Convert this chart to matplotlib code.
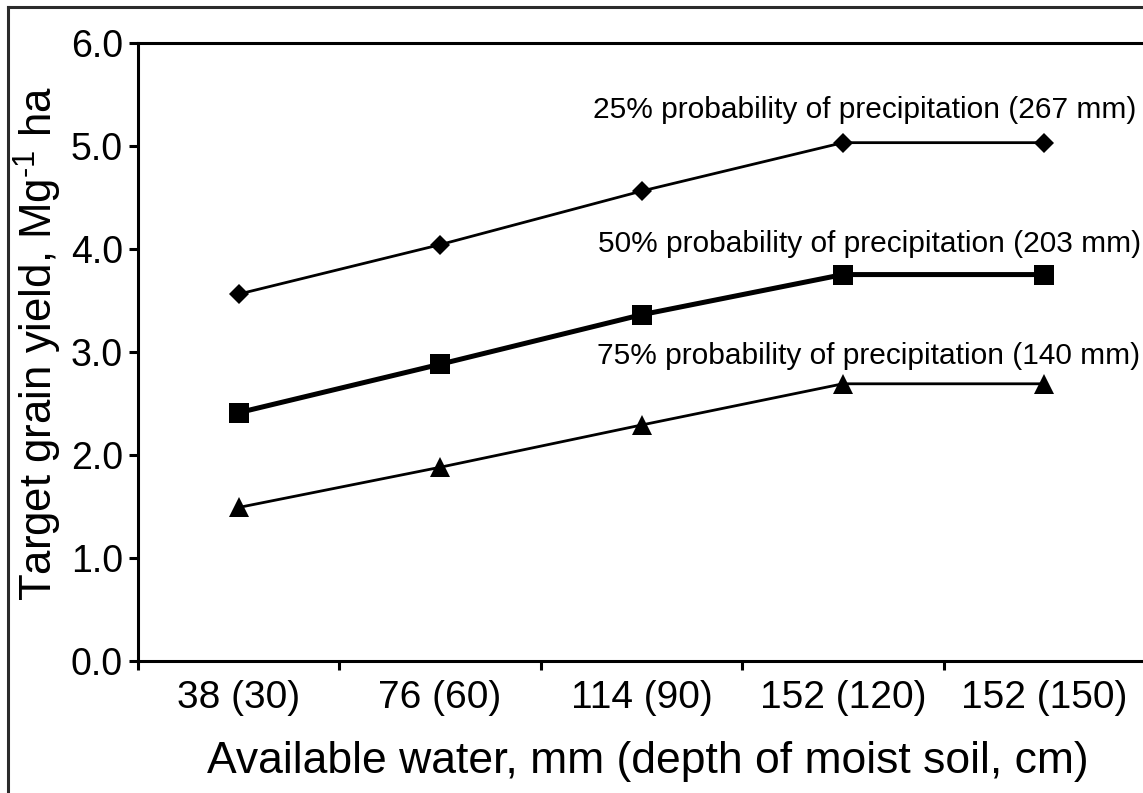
import matplotlib
matplotlib.use("Agg")
import matplotlib.pyplot as plt
from matplotlib.lines import Line2D

# Categories: available water, mm (depth of moist soil, cm)
categories = ["38 (30)", "76 (60)", "114 (90)", "152 (120)", "152 (150)"]

# Target grain yield (Mg/ha) for three precipitation probabilities
yield_25 = [3.56, 4.04, 4.56, 5.03, 5.03]
yield_50 = [2.41, 2.88, 3.36, 3.75, 3.75]
yield_75 = [1.49, 1.88, 2.29, 2.69, 2.69]

series_labels = [
    "25% probability of precipitation (267 mm)",
    "50% probability of precipitation (203 mm)",
    "75% probability of precipitation (140 mm)",
]
y_ticks = [0, 1, 2, 3, 4, 5, 6]

plt.rcParams["font.family"] = ["Liberation Sans", "DejaVu Sans"]
plt.rcParams["mathtext.fontset"] = "custom"
plt.rcParams["mathtext.rm"] = "Liberation Sans"
plt.rcParams["mathtext.it"] = "Liberation Sans"

W, H = 1143, 793
fig = plt.figure(figsize=(W / 100, H / 100), dpi=100)
left, right, top, bottom = 138, 1145, 42.7, 661
ax = fig.add_axes([left / W, (H - bottom) / H, (right - left) / W, (bottom - top) / H])

x = list(range(len(categories)))
ax.plot(x, yield_25, color="black", lw=2.0, marker="D", ms=10.5, mew=0)
ax.plot(x, yield_50, color="black", lw=3.6, marker="s", ms=13.7, mew=0)
ax.plot(x, yield_75, color="black", lw=2.0, marker="^", ms=14.4, mew=0)

ax.set_xlim(-0.5, len(categories) - 0.5)
ax.set_ylim(0, 6)

for sp in ("left", "bottom", "top", "right"):
    ax.spines[sp].set_linewidth(2.2)
    ax.spines[sp].set_color("black")

ax.set_yticks(y_ticks)
ax.set_yticklabels([f"{v:.1f}" for v in y_ticks])
ax.tick_params(axis="y", which="major", direction="out", length=6.5, width=2.2,
               pad=4.3, labelsize=27, left=True, right=False)

ax.set_xticks([i - 0.5 for i in range(len(categories) + 1)])
ax.set_xticklabels([])
ax.set_xticks(x, minor=True)
ax.set_xticklabels(categories, minor=True)
ax.tick_params(axis="x", which="major", direction="out", length=6.5, width=2.2,
               top=False, bottom=True)
ax.tick_params(axis="x", which="minor", length=0, pad=14, labelsize=28)

# Series annotations
ax.text(1.759, 5.27, series_labels[0], fontsize=21.5, ha="left", va="baseline")
ax.text(1.784, 3.97, series_labels[1], fontsize=21.5, ha="left", va="baseline")
ax.text(1.779, 2.88, series_labels[2], fontsize=21.5, ha="left", va="baseline")

# Axis titles
fig.text(648 / W, (H - 773) / H, "Available water, mm (depth of moist soil, cm)",
         fontsize=32, ha="center", va="baseline")
fig.text(53 / W, (H - 344) / H, r"Target grain yield, Mg$^{\text{-}1}$ ha",
         fontsize=31.5, rotation=90, rotation_mode="anchor",
         ha="center", va="baseline")

# Outer frame
frame_kw = dict(transform=fig.transFigure, color="#2b2b2b", lw=2.2,
                solid_capstyle="projecting")
fig.add_artist(Line2D([8 / W, 8 / W], [0, (H - 7) / H], **frame_kw))
fig.add_artist(Line2D([8 / W, 1], [(H - 7) / H, (H - 7) / H], **frame_kw))

fig.savefig("out.png", dpi=100)
